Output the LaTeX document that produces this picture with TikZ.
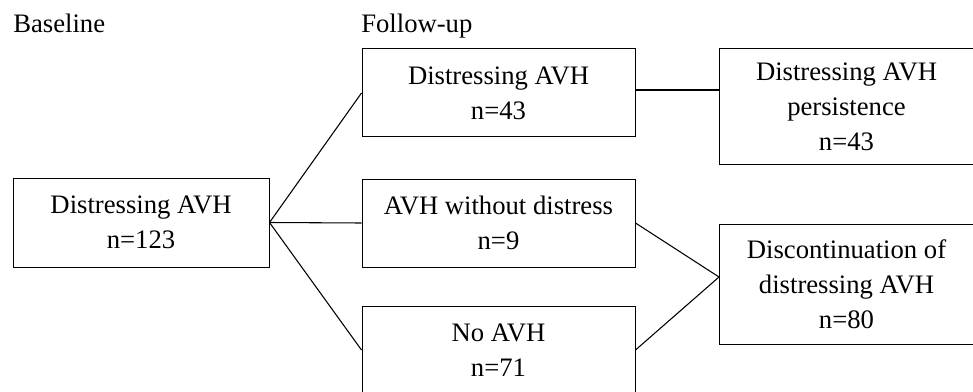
\documentclass[tikz,border=0pt]{standalone}
\usepackage{fontspec}
\setmainfont{Liberation Serif}
\usetikzlibrary{calc}
\begin{document}
\begin{tikzpicture}[x=0.75pt,y=-0.75pt,
  every node/.style={font=\fontsize{20pt}{26.25pt}\selectfont, inner sep=0pt},
  box/.style={draw, line width=0.75pt, align=center},
  link/.style={line width=0.8pt}]
\clip (0,0) rectangle (973,392);
\node[anchor=base west] (hb) at (13,33) {Baseline};
\node[anchor=base west] (hf) at (361,33) {Follow-up};
\node[box, minimum width=192pt, minimum height=66.75pt] (L) at (141,222.5) {Distressing AVH\\n=123};
\node[box, minimum width=204.75pt, minimum height=66pt] (T) at (498.5,93) {Distressing AVH\\n=43};
\node[box, minimum width=204.75pt, minimum height=66pt] (M) at (498.5,223) {AVH without distress\\n=9};
\node[box, minimum width=204.75pt, minimum height=66pt] (B) at (498.5,350) {No AVH\\n=71};
\node[box, minimum width=191.25pt, minimum height=86.25pt] (RT) at (846.5,106.5) {Distressing AVH\\persistence\\n=43};
\node[box, minimum width=191.25pt, minimum height=90pt] (RB) at (846.5,284) {Discontinuation of\\distressing AVH\\n=80};
\coordinate (rbin) at (719,277);
\coordinate (tout) at ($(T.east)+(0,-3)$);
\draw[link] (L.east) -- (T.west);
\draw[link] (L.east) -- (M.west);
\draw[link] (L.east) -- (B.west);
\draw[link] (tout) -- (tout -| RT.west);
\draw[link] (M.east) -- (rbin);
\draw[link] (B.east) -- (rbin);
\end{tikzpicture}
\end{document}
